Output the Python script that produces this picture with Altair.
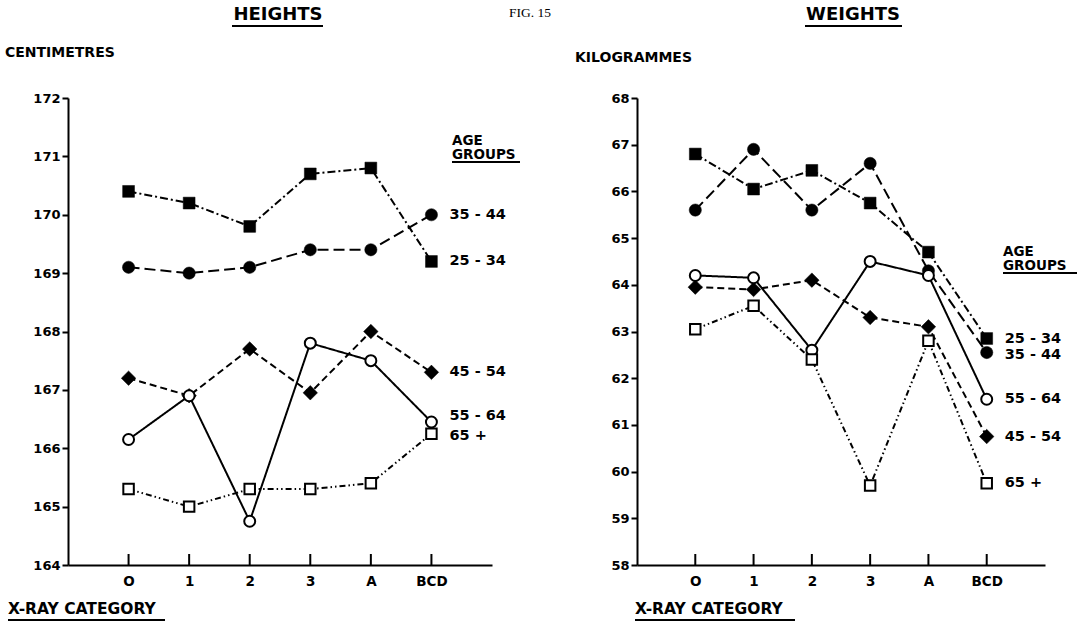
import altair as alt
import pandas as pd

categories = ["O", "1", "2", "3", "A", "BCD"]
groups = ["25 - 34", "35 - 44", "45 - 54", "55 - 64", "65 +"]

height_25_34 = [170.4, 170.2, 169.8, 170.7, 170.8, 169.2]
height_35_44 = [169.1, 169.0, 169.1, 169.4, 169.4, 170.0]
height_45_54 = [167.2, 166.9, 167.7, 166.95, 168.0, 167.3]
height_55_64 = [166.15, 166.9, 164.75, 167.8, 167.5, 166.45]
height_65_up = [165.3, 165.0, 165.3, 165.3, 165.4, 166.25]

weight_25_34 = [66.8, 66.05, 66.45, 65.75, 64.7, 62.85]
weight_35_44 = [65.6, 66.9, 65.6, 66.6, 64.3, 62.55]
weight_45_54 = [63.95, 63.9, 64.1, 63.3, 63.1, 60.75]
weight_55_64 = [64.2, 64.15, 62.6, 64.5, 64.2, 61.55]
weight_65_up = [63.05, 63.55, 62.4, 59.7, 62.8, 59.75]

height_ticks = list(range(164, 173))
weight_ticks = list(range(58, 69))

FONT = "DejaVu Sans"
H = 467

style = {
    "25 - 34": dict(dash=[8, 3, 2, 3], shape="square", fill="black", size=140),
    "35 - 44": dict(dash=[11, 5], shape="circle", fill="black", size=150),
    "45 - 54": dict(dash=[7, 4], shape="diamond", fill="black", size=210),
    "55 - 64": dict(dash=[1, 0], shape="circle", fill="white", size=120),
    "65 +": dict(dash=[6, 3, 1.5, 3, 1.5, 3], shape="square", fill="white", size=110),
}


def blank():
    return alt.Chart(alt.Data(values=[{}]))


def txt(s, x, y, size=13, align="left", font=FONT, weight="bold", **kw):
    return blank().mark_text(
        text=s, align=align, baseline="alphabetic", font=font,
        fontSize=size, fontWeight=weight, color="black", **kw
    ).encode(x=alt.value(x), y=alt.value(y))


def uline(x1, x2, y, w=2):
    return blank().mark_rule(color="black", strokeWidth=w).encode(
        x=alt.value(x1), x2=alt.value(x2), y=alt.value(y)
    )


def panel(series, ydomain, yticks, W, title, title_cx, title_ul, unit, unit_x, unit_y,
          xcat_x, xcat_ul, age_x, age_y, age_w, label_dy, fig=False, anchor=False):
    rows = []
    for g in groups:
        for c, v in zip(categories, series[g]):
            rows.append({"cat": c, "val": v, "grp": g})
    df = pd.DataFrame(rows)

    xenc = alt.X(
        "cat:O", sort=categories,
        scale=alt.Scale(type="point", domain=categories, padding=1),
        axis=alt.Axis(title=None, labelAngle=0, ticks=False, domain=True, domainWidth=2,
                      domainColor="black", labelFont=FONT, labelFontSize=13.5,
                      labelFontWeight="bold", labelColor="black", labelPadding=9, grid=False),
    )
    yenc = alt.Y(
        "val:Q",
        scale=alt.Scale(domain=ydomain, nice=False, zero=False),
        axis=alt.Axis(title=None, values=yticks, format="d", grid=False, domainWidth=2,
                      domainColor="black", tickWidth=2, tickSize=6, tickColor="black",
                      labelPadding=2, labelFont=FONT, labelFontSize=13,
                      labelFontWeight="bold", labelColor="black"),
    )

    layers = []
    base = alt.Chart(df)
    for g in groups:
        st = style[g]
        layers.append(
            base.transform_filter(alt.datum.grp == g).mark_line(
                color="black", strokeWidth=2, strokeDash=st["dash"]
            ).encode(x=xenc, y=yenc)
        )
    for g in groups:
        st = style[g]
        layers.append(
            base.transform_filter(alt.datum.grp == g).mark_point(
                shape=st["shape"], filled=True, fill=st["fill"], stroke="black",
                strokeWidth=2 if st["fill"] == "white" else 0.5, size=st["size"], opacity=1
            ).encode(x=xenc, y=yenc)
        )
    # upward x ticks
    layers.append(
        alt.Chart(pd.DataFrame({"cat": categories})).mark_rule(
            color="black", strokeWidth=2
        ).encode(x=xenc, y=alt.value(H - 11), y2=alt.value(H))
    )
    # end labels
    for g in groups:
        layers.append(
            alt.Chart(pd.DataFrame([{"cat": categories[-1], "val": series[g][-1], "lab": g}]))
            .mark_text(align="left", baseline="middle", dx=18, dy=label_dy.get(g, 0),
                       font=FONT, fontSize=14.5, fontWeight="bold", color="black")
            .encode(x=xenc, y=yenc, text="lab:N")
        )
    # decorations
    layers += [
        txt(title, title_cx, -78, size=18, align="center"),
        uline(title_ul[0], title_ul[1], -72),
        txt(unit, unit_x, unit_y, size=14),
        txt("X-RAY CATEGORY", xcat_x, H + 49, size=15.5),
        uline(xcat_ul[0], xcat_ul[1], H + 55),
        txt("AGE", age_x, age_y, size=13.5),
        txt("GROUPS", age_x, age_y + 14, size=13.5),
        uline(age_x, age_x + age_w, age_y + 17),
    ]
    if fig:
        layers.append(txt("FIG. 15", 462, -81, size=13.5, align="center",
                          font="Liberation Serif", weight="normal"))
    if anchor:
        layers.append(blank().mark_rule(strokeOpacity=0, strokeWidth=1).encode(
            x=alt.value(-67.5), x2=alt.value(-66.5), y=alt.value(-97.5)))
    return alt.layer(*layers).properties(
        width=W, height=H, view=alt.ViewBackground(stroke="transparent", strokeWidth=0)
    )


heights = {
    "25 - 34": height_25_34, "35 - 44": height_35_44, "45 - 54": height_45_54,
    "55 - 64": height_55_64, "65 +": height_65_up,
}
weights = {
    "25 - 34": weight_25_34, "35 - 44": weight_35_44, "45 - 54": weight_45_54,
    "55 - 64": weight_55_64, "65 +": weight_65_up,
}

left = panel(heights, [164, 172], height_ticks, 424, "HEIGHTS", 210, (164, 255),
             "CENTIMETRES", -63, -41, -60, (-60, 97), 384, 47, 68,
             {"55 - 64": -6, "65 +": 2}, fig=True, anchor=True)
right = panel(weights, [58, 68], weight_ticks, 408, "WEIGHTS", 216, (168, 265),
              "KILOGRAMMES", -62, -36, -2, (-2, 158), 366, 158, 74,
              {"35 - 44": 2})

chart = alt.hconcat(left, right, spacing=145, bounds="flush").properties(
    padding=0
).configure_view(stroke="transparent", strokeWidth=0).configure(background="white")

chart.save("out.html", embed_options={"renderer": "svg", "actions": False})
